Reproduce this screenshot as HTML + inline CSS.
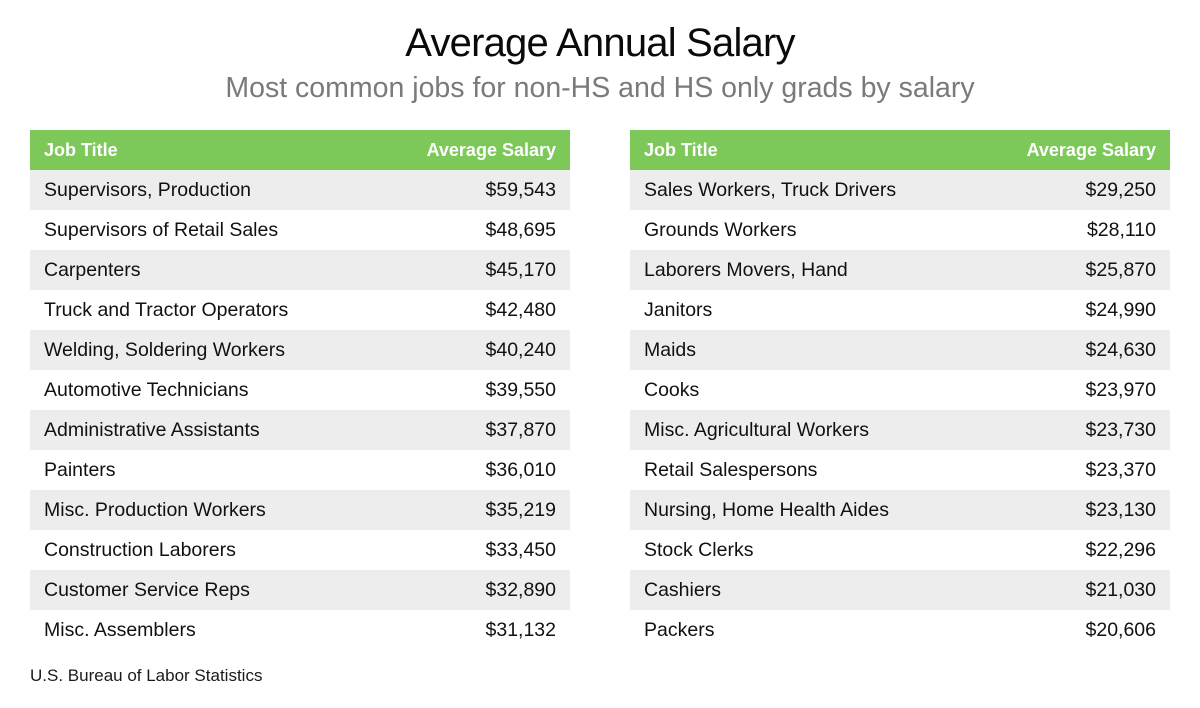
<!DOCTYPE html>
<html>
<head>
<meta charset="utf-8">
<style>
  html,body{margin:0;padding:0;background:#fff;}
  body{width:1200px;height:708px;position:relative;overflow:hidden;font-family:"Liberation Sans",sans-serif;}
  .title{position:absolute;left:0;width:1200px;top:23.4px;text-align:center;font-size:40px;line-height:40px;color:#0a0a0a;letter-spacing:-0.8px;white-space:nowrap;}
  .sub{position:absolute;left:0;width:1200px;top:74.2px;text-align:center;font-size:28.5px;line-height:28.5px;color:#7a7a7a;white-space:nowrap;}
  .tbl{position:absolute;top:130px;width:540px;}
  .row{height:40px;line-height:40px;position:relative;font-size:19.5px;color:#111;}
  .row.g{background:#ededed;}
  .row .a{position:absolute;left:14px;white-space:nowrap;}
  .row .b{position:absolute;right:14px;white-space:nowrap;}
  .hd{background:#7cc95a;color:#fff;font-weight:bold;font-size:18px;}
  .foot{position:absolute;left:30px;top:667.3px;font-size:17px;line-height:17px;color:#1a1a1a;white-space:nowrap;}
</style>
</head>
<body>
<div class="title">Average Annual Salary</div>
<div class="sub">Most common jobs for non-HS and HS only grads by salary</div>

<div class="tbl" style="left:30px;">
  <div class="row hd"><span class="a">Job Title</span><span class="b">Average Salary</span></div>
  <div class="row g"><span class="a">Supervisors, Production</span><span class="b">$59,543</span></div>
  <div class="row"><span class="a">Supervisors of Retail Sales</span><span class="b">$48,695</span></div>
  <div class="row g"><span class="a">Carpenters</span><span class="b">$45,170</span></div>
  <div class="row"><span class="a">Truck and Tractor Operators</span><span class="b">$42,480</span></div>
  <div class="row g"><span class="a">Welding, Soldering Workers</span><span class="b">$40,240</span></div>
  <div class="row"><span class="a">Automotive Technicians</span><span class="b">$39,550</span></div>
  <div class="row g"><span class="a">Administrative Assistants</span><span class="b">$37,870</span></div>
  <div class="row"><span class="a">Painters</span><span class="b">$36,010</span></div>
  <div class="row g"><span class="a">Misc. Production Workers</span><span class="b">$35,219</span></div>
  <div class="row"><span class="a">Construction Laborers</span><span class="b">$33,450</span></div>
  <div class="row g"><span class="a">Customer Service Reps</span><span class="b">$32,890</span></div>
  <div class="row"><span class="a">Misc. Assemblers</span><span class="b">$31,132</span></div>
</div>

<div class="tbl" style="left:630px;">
  <div class="row hd"><span class="a">Job Title</span><span class="b">Average Salary</span></div>
  <div class="row g"><span class="a">Sales Workers, Truck Drivers</span><span class="b">$29,250</span></div>
  <div class="row"><span class="a">Grounds Workers</span><span class="b">$28,110</span></div>
  <div class="row g"><span class="a">Laborers Movers, Hand</span><span class="b">$25,870</span></div>
  <div class="row"><span class="a">Janitors</span><span class="b">$24,990</span></div>
  <div class="row g"><span class="a">Maids</span><span class="b">$24,630</span></div>
  <div class="row"><span class="a">Cooks</span><span class="b">$23,970</span></div>
  <div class="row g"><span class="a">Misc. Agricultural Workers</span><span class="b">$23,730</span></div>
  <div class="row"><span class="a">Retail Salespersons</span><span class="b">$23,370</span></div>
  <div class="row g"><span class="a">Nursing, Home Health Aides</span><span class="b">$23,130</span></div>
  <div class="row"><span class="a">Stock Clerks</span><span class="b">$22,296</span></div>
  <div class="row g"><span class="a">Cashiers</span><span class="b">$21,030</span></div>
  <div class="row"><span class="a">Packers</span><span class="b">$20,606</span></div>
</div>

<div class="foot">U.S. Bureau of Labor Statistics</div>
</body>
</html>
